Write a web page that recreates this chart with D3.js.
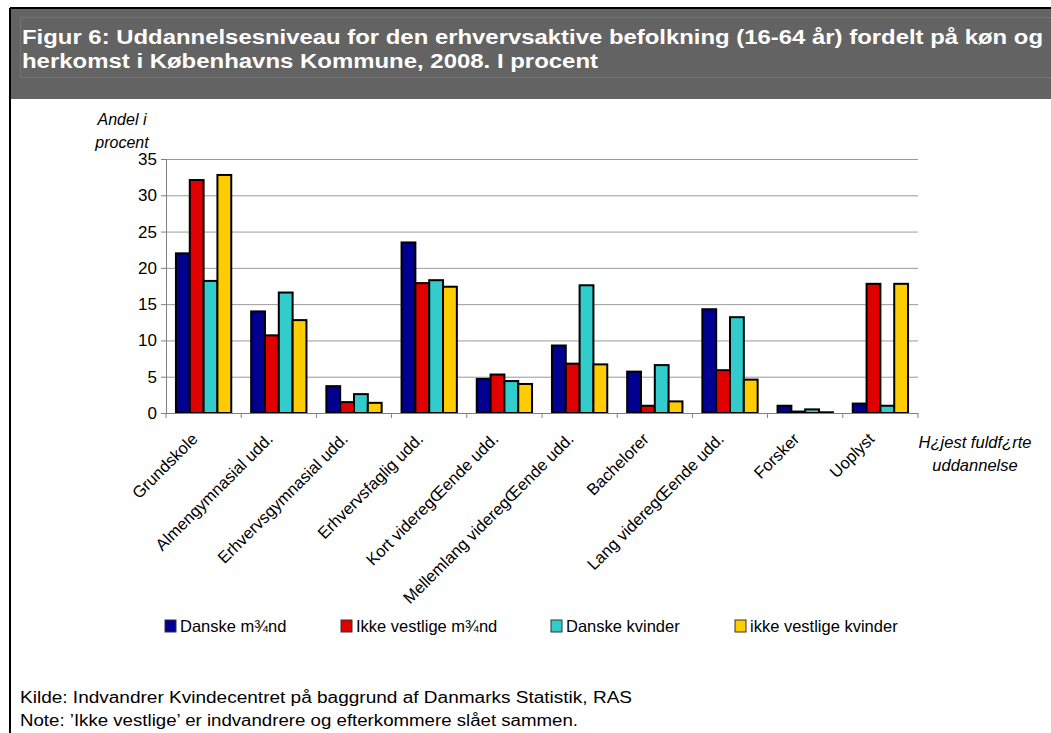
<!DOCTYPE html>
<html>
<head>
<meta charset="utf-8">
<script src="https://cdn.jsdelivr.net/npm/d3@7"></script>
<style>
  body { margin: 0; background: #fff; }
  svg { display: block; font-family: "Liberation Sans", Arial, sans-serif; }
  .grid line { stroke: #9a9a9a; stroke-width: 1; }
  .grid path { display: none; }
  .axis path, .axis line { stroke: #808080; }
  .axis text { fill: #000; }
</style>
</head>
<body>
<div id="chart"></div>
<script>
const categories = [
  "Grundskole", "Almengymnasial udd.", "Erhvervsgymnasial udd.", "Erhvervsfaglig udd.",
  "Kort videregŒende udd.", "Mellemlang videregŒende udd.", "Bachelorer",
  "Lang videregŒende udd.", "Forsker", "Uoplyst"
];
const seriesNames = ["Danske m¾nd", "Ikke vestlige m¾nd", "Danske kvinder", "ikke vestlige kvinder"];
const danskeMaend        = [22.0, 14.0, 3.7, 23.5, 4.7, 9.3, 5.7, 14.3, 1.0, 1.3];
const ikkeVestligeMaend  = [32.1, 10.7, 1.5, 17.9, 5.3, 6.8, 1.0, 5.9, 0.2, 17.8];
const danskeKvinder      = [18.2, 16.6, 2.6, 18.3, 4.4, 17.6, 6.6, 13.2, 0.5, 1.0];
const ikkeVestligeKvinder = [32.8, 12.8, 1.4, 17.4, 4.0, 6.7, 1.6, 4.6, 0.1, 17.8];
const yTicks = [0, 5, 10, 15, 20, 25, 30, 35];
const colors = ["#000090", "#e00000", "#33cccc", "#ffcc00"];

const seriesValues = [danskeMaend, ikkeVestligeMaend, danskeKvinder, ikkeVestligeKvinder];
const W = 1051, H = 733;
const plot = { left: 166, right: 918, top: 159, bottom: 413 };

const svg = d3.select("#chart").append("svg")
  .attr("width", W).attr("height", H);

// frame + title band
svg.append("rect").attr("x", 10).attr("y", 8).attr("width", W - 10).attr("height", 91).attr("fill", "#636363");
svg.append("line").attr("x1", 10).attr("x2", W).attr("y1", 8).attr("y2", 8).attr("stroke", "#000").attr("stroke-width", 2);
svg.append("line").attr("x1", 10).attr("x2", 10).attr("y1", 8).attr("y2", H).attr("stroke", "#000").attr("stroke-width", 2);
svg.append("rect").attr("x", 20.5).attr("y", 17.5).attr("width", W - 20).attr("height", 60)
  .attr("fill", "none").attr("stroke", "#737373").attr("stroke-width", 1);

const title = svg.append("g").attr("fill", "#fff").attr("font-weight", "bold").attr("font-size", 20);
title.append("text").attr("x", 22).attr("y", 44)
  .attr("textLength", 1021).attr("lengthAdjust", "spacingAndGlyphs")
  .text("Figur 6: Uddannelsesniveau for den erhvervsaktive befolkning (16-64 år) fordelt på køn og");
title.append("text").attr("x", 22).attr("y", 68)
  .attr("textLength", 576).attr("lengthAdjust", "spacingAndGlyphs")
  .text("herkomst i Københavns Kommune, 2008. I procent");

// scales
const x0 = d3.scaleBand().domain(categories).range([plot.left, plot.right]).padding(0);
const x1 = d3.scaleBand().domain(seriesNames).range([0, x0.bandwidth()]).paddingInner(0).paddingOuter(0.72);
const y = d3.scaleLinear().domain([0, 35]).range([plot.bottom, plot.top]);

// gridlines
svg.append("g").attr("class", "grid")
  .attr("transform", `translate(${plot.left},0)`)
  .call(d3.axisLeft(y).tickValues(yTicks.slice(1)).tickSize(-(plot.right - plot.left)).tickFormat(""));

// bars
const groups = svg.append("g").selectAll("g")
  .data(categories)
  .join("g")
  .attr("transform", d => `translate(${x0(d)},0)`);

groups.selectAll("rect")
  .data((c, i) => seriesNames.map((s, j) => ({ s, j, v: seriesValues[j][i] })))
  .join("rect")
  .attr("x", d => x1(d.s))
  .attr("y", d => y(d.v))
  .attr("width", x1.bandwidth())
  .attr("height", d => y(0) - y(d.v))
  .attr("fill", d => colors[d.j])
  .attr("stroke", "#000")
  .attr("stroke-width", 2);

// y axis
const yAxis = svg.append("g").attr("class", "axis")
  .attr("transform", `translate(${plot.left},0)`)
  .call(d3.axisLeft(y).tickValues(yTicks).tickSize(5).tickPadding(4));
yAxis.selectAll("text").attr("font-size", 17);

// x axis with ticks at category boundaries
const xAxisG = svg.append("g").attr("class", "axis");
xAxisG.append("line")
  .attr("x1", plot.left).attr("x2", plot.right)
  .attr("y1", plot.bottom + 0.5).attr("y2", plot.bottom + 0.5);
xAxisG.selectAll(".tk")
  .data(categories.concat(["_end"]))
  .join("line")
  .attr("x1", (d, i) => i < categories.length ? x0(d) : plot.right)
  .attr("x2", (d, i) => i < categories.length ? x0(d) : plot.right)
  .attr("y1", plot.bottom).attr("y2", plot.bottom + 5);

xAxisG.selectAll(".lbl")
  .data(categories)
  .join("text")
  .attr("transform", d => `translate(${x0(d) + x0.bandwidth() / 2 - 9},${plot.bottom + 23}) rotate(-45)`)
  .attr("text-anchor", "end")
  .attr("font-size", 16.5)
  .attr("dy", "0.35em")
  .text(d => d);

// axis titles
const yTitle = svg.append("text").attr("font-style", "italic").attr("font-size", 16).attr("text-anchor", "middle");
yTitle.append("tspan").attr("x", 122).attr("y", 125).text("Andel i");
yTitle.append("tspan").attr("x", 122).attr("y", 148).text("procent");

const xTitle = svg.append("text").attr("font-style", "italic").attr("font-size", 16.5).attr("text-anchor", "middle");
xTitle.append("tspan").attr("x", 975).attr("y", 448).text("H¿jest fuldf¿rte");
xTitle.append("tspan").attr("x", 975).attr("y", 471).text("uddannelse");

// legend
const legendX = [165, 341, 551, 735];
const legend = svg.append("g").selectAll("g")
  .data(seriesNames)
  .join("g")
  .attr("transform", (d, i) => `translate(${legendX[i]},620)`);
legend.append("rect")
  .attr("width", 11).attr("height", 12)
  .attr("fill", (d, i) => colors[i])
  .attr("stroke", "#333").attr("stroke-width", 1);
legend.append("text")
  .attr("x", 15).attr("y", 12)
  .attr("font-size", 16.5)
  .text(d => d);

// footer
svg.append("text").attr("x", 20).attr("y", 703).attr("font-size", 16)
  .attr("textLength", 612).attr("lengthAdjust", "spacingAndGlyphs")
  .text("Kilde: Indvandrer Kvindecentret på baggrund af Danmarks Statistik, RAS");
svg.append("text").attr("x", 20).attr("y", 726).attr("font-size", 16)
  .attr("textLength", 558).attr("lengthAdjust", "spacingAndGlyphs")
  .text("Note: ’Ikke vestlige’ er indvandrere og efterkommere slået sammen.");
</script>
</body>
</html>
